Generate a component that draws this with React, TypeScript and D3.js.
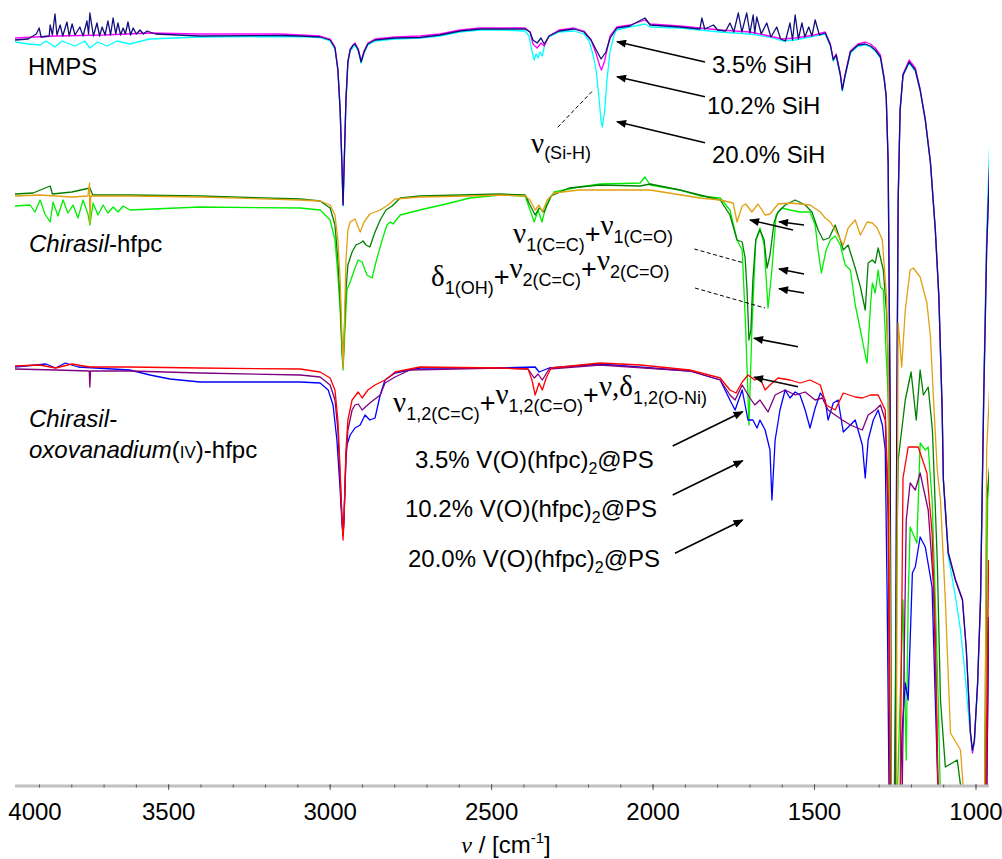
import React from 'react';
import * as d3 from 'd3';

type Pt = [number, number]; // [wavenumber cm-1, offset transmittance (a.u.)]

// ---- HMPS (top group) ----
const hmps35: Pt[] = [
  [3976, 74.6], [3935, 74.7], [3910, 75.2], [3901, 75.8], [3895, 74.9], [3870, 75.0], [3867, 76.1], [3860, 75.1],
  [3852, 77.2], [3846, 75.1], [3836, 76.1], [3828, 75.0], [3815, 76.4], [3808, 75.0], [3799, 76.2], [3790, 75.1],
  [3775, 75.9], [3765, 75.0], [3753, 76.5], [3748, 75.2], [3744, 77.3], [3733, 75.0], [3722, 76.3], [3714, 75.0],
  [3706, 75.9], [3697, 75.1], [3688, 76.5], [3680, 75.1], [3672, 76.8], [3664, 75.2], [3657, 76.3], [3649, 75.1],
  [3641, 75.8], [3634, 75.2], [3626, 76.4], [3618, 75.1], [3610, 75.8], [3600, 75.2], [3589, 75.6], [3578, 75.2],
  [3567, 75.5], [3540, 75.2], [3403, 75.0], [3155, 75.05], [3093, 75.0], [3031, 74.9], [3000, 74.6], [2985, 73.8],
  [2976, 71.6], [2969, 67.6], [2963, 61.6], [2960, 58.1], [2957, 61.6], [2951, 68.6], [2945, 72.4], [2938, 73.6],
  [2929, 74.1], [2923, 74.2], [2913, 73.6], [2904, 72.4], [2895, 73.4], [2883, 74.2], [2861, 74.6], [2799, 74.8],
  [2722, 74.85], [2660, 75.1], [2598, 75.5], [2536, 75.7], [2474, 75.7], [2396, 75.7], [2381, 75.4], [2372, 74.6],
  [2359, 74.3], [2347, 74.8], [2337, 74.2], [2322, 75.0], [2291, 75.5], [2245, 75.7], [2214, 75.4], [2192, 74.6],
  [2176, 73.6], [2161, 72.7], [2146, 73.4], [2133, 74.8], [2112, 75.8], [2072, 76.0], [2025, 76.8], [2009, 76.1],
  [1917, 75.9], [1855, 75.7], [1849, 76.8], [1840, 75.7], [1813, 76.1], [1800, 75.6], [1775, 75.5], [1762, 76.3],
  [1750, 75.4], [1736, 77.3], [1725, 75.4], [1710, 77.3], [1700, 75.3], [1690, 77.1], [1685, 75.3], [1679, 76.9],
  [1665, 75.2], [1648, 76.3], [1635, 74.9], [1617, 75.9], [1605, 74.7], [1590, 74.5], [1576, 76.3], [1568, 74.6],
  [1560, 77.1], [1550, 74.7], [1539, 76.3], [1530, 74.9], [1518, 75.9], [1508, 75.0], [1498, 76.6], [1485, 75.1],
  [1467, 75.3], [1451, 74.1], [1442, 72.6], [1433, 73.1], [1420, 71.1], [1414, 69.6], [1405, 71.1], [1389, 73.4],
  [1365, 74.1], [1343, 74.2], [1327, 74.0], [1312, 73.6], [1296, 72.9], [1284, 70.6], [1278, 68.9], [1272, 62.3],
  [1266, 38.0], [1263, -1.4], [1250, -1.4], [1245, 38.0], [1241, 58.6], [1235, 67.6], [1226, 71.1], [1207, 72.4],
  [1188, 71.6], [1173, 69.6], [1157, 66.6], [1141, 62.3], [1126, 55.6], [1115, 48.9], [1105, 37.9], [1101, 30.6],
  [1086, 23.3], [1064, 20.6], [1042, 18.6], [1030, 13.6], [1017, 5.3], [1011, 3.6], [1005, 4.6], [995, 10.3],
  [986, 18.6], [976, 38.9], [967, 53.6], [958, 61.9],
];

const hmps102: Pt[] = [
  [3976, 74.8], [3850, 75.0], [3700, 75.1], [3558, 75.3], [3403, 75.2], [3155, 75.2], [3093, 75.1], [3031, 75.0],
  [3000, 74.7], [2985, 73.9], [2976, 71.7], [2969, 67.7], [2963, 61.7], [2960, 58.2], [2957, 61.7], [2951, 68.7],
  [2945, 72.5], [2938, 73.7], [2923, 74.3], [2913, 73.7], [2904, 72.5], [2895, 73.5], [2883, 74.3], [2861, 74.7],
  [2799, 74.9], [2722, 75.0], [2660, 75.2], [2598, 75.6], [2536, 75.8], [2474, 75.8], [2396, 75.8], [2381, 75.4],
  [2372, 74.2], [2359, 73.8], [2347, 74.3], [2337, 74.0], [2322, 75.0], [2291, 75.6], [2245, 75.8], [2214, 75.5],
  [2192, 74.6], [2176, 73.2], [2165, 72.0], [2160, 71.6], [2150, 72.5], [2140, 74.0], [2133, 75.0], [2112, 75.9],
  [2072, 76.1], [2025, 76.6], [2009, 76.2], [1917, 76.0], [1855, 75.8], [1792, 75.6], [1700, 75.4], [1640, 75.0],
  [1600, 74.7], [1560, 74.8], [1500, 75.1], [1467, 75.4], [1451, 74.2], [1442, 72.7], [1433, 73.2], [1420, 71.2],
  [1414, 69.7], [1405, 71.2], [1389, 73.5], [1365, 74.2], [1343, 74.4], [1327, 74.2], [1312, 73.8], [1296, 73.1],
  [1284, 70.8], [1278, 69.0], [1272, 62.4], [1266, 38.1], [1263, -1.4], [1250, -1.4], [1245, 38.1], [1241, 58.7],
  [1235, 67.7], [1226, 71.2], [1207, 72.6], [1188, 71.8], [1173, 69.7], [1157, 66.7], [1141, 62.4], [1126, 55.7],
  [1115, 49.0], [1105, 38.0], [1101, 30.7], [1086, 23.4], [1064, 20.7], [1042, 18.7], [1030, 13.7], [1017, 5.2],
  [1011, 3.3], [1005, 4.5], [995, 10.4], [986, 18.7], [976, 39.0], [967, 53.7], [958, 62.0],
];

const hmps200: Pt[] = [
  [3976, 74.4], [3935, 74.2], [3898, 74.1], [3880, 74.5], [3852, 73.9], [3830, 74.5], [3790, 74.0], [3760, 74.5],
  [3744, 73.8], [3720, 74.4], [3690, 74.0], [3660, 74.5], [3620, 74.2], [3560, 74.7], [3403, 74.9], [3093, 74.95],
  [3031, 74.85], [3000, 74.5], [2985, 73.7], [2976, 71.5], [2969, 67.5], [2963, 61.5], [2960, 58.0], [2957, 61.5],
  [2951, 68.5], [2945, 72.3], [2938, 73.5], [2923, 74.1], [2913, 73.5], [2904, 72.3], [2895, 73.3], [2883, 74.1],
  [2861, 74.5], [2799, 74.7], [2722, 74.8], [2660, 75.0], [2598, 75.4], [2536, 75.6], [2474, 75.6], [2396, 75.5],
  [2384, 75.0], [2375, 73.5], [2368, 72.6], [2362, 73.2], [2356, 72.8], [2350, 73.4], [2343, 73.0], [2335, 74.2],
  [2322, 74.9], [2291, 75.4], [2245, 75.5], [2214, 75.2], [2198, 74.5], [2185, 73.0], [2176, 71.5], [2168, 69.0],
  [2161, 66.5], [2157, 65.9], [2150, 67.5], [2143, 70.5], [2133, 73.5], [2120, 75.2], [2112, 75.6], [2072, 75.9],
  [2025, 76.2], [2009, 75.9], [1917, 75.8], [1855, 75.6], [1792, 75.4], [1700, 75.2], [1640, 74.9], [1600, 74.5],
  [1560, 74.6], [1500, 75.0], [1467, 75.2], [1451, 74.0], [1442, 72.5], [1433, 73.0], [1420, 71.0], [1414, 69.5],
  [1405, 71.0], [1389, 73.3], [1365, 74.0], [1343, 74.1], [1327, 73.9], [1312, 73.5], [1296, 72.8], [1284, 70.5],
  [1278, 68.8], [1272, 62.2], [1266, 37.9], [1263, -1.4], [1250, -1.4], [1245, 37.9], [1241, 58.5], [1235, 67.5],
  [1226, 71.0], [1207, 72.3], [1188, 71.5], [1173, 69.5], [1157, 66.5], [1141, 62.2], [1126, 55.5], [1115, 48.8],
  [1105, 37.8], [1101, 30.5], [1086, 23.0], [1064, 19.0], [1048, 15.6], [1036, 11.9], [1020, 6.0], [1011, 3.3],
  [1005, 4.3], [995, 10.0], [986, 18.5], [976, 40.0], [967, 55.5], [958, 63.9],
];

// ---- Chirasil-hfpc (middle group) ----
const hfpcOrange: Pt[] = [
  [3976, 59.0], [3900, 59.1], [3800, 58.9], [3750, 59.0], [3745, 60.3], [3744, 56.3], [3741, 59.0], [3620, 59.0],
  [3403, 58.9], [3093, 58.6], [3031, 58.5], [3000, 58.1], [2985, 57.1], [2976, 54.6], [2969, 50.6], [2963, 44.6],
  [2960, 41.8], [2957, 44.6], [2951, 52.6], [2945, 55.6], [2938, 56.4], [2923, 56.7], [2907, 55.4], [2895, 56.4],
  [2877, 57.2], [2845, 57.6], [2821, 58.1], [2799, 58.7], [2722, 58.9], [2567, 59.0], [2474, 59.1], [2396, 59.0],
  [2381, 58.6], [2365, 57.6], [2353, 58.1], [2343, 57.4], [2328, 58.6], [2307, 59.3], [2229, 59.6], [2164, 59.6],
  [2009, 59.6], [1855, 58.8], [1792, 58.6], [1752, 58.3], [1740, 56.4], [1724, 58.0], [1713, 58.2], [1694, 57.4],
  [1675, 58.2], [1653, 57.1], [1638, 57.2], [1613, 58.2], [1576, 58.3], [1514, 58.1], [1482, 57.4], [1467, 56.8],
  [1451, 56.4], [1436, 55.6], [1411, 54.1], [1396, 55.8], [1374, 56.6], [1358, 55.1], [1337, 56.4], [1321, 56.3],
  [1306, 55.8], [1290, 54.6], [1277, 48.9], [1272, 42.3], [1266, 18.6], [1263, -1.4], [1247, -1.4], [1241, 46.3],
  [1230, 41.9], [1219, 47.6], [1204, 51.6], [1194, 51.8], [1173, 50.9], [1152, 48.3], [1141, 44.9], [1132, 38.9],
  [1120, 31.6], [1110, 28.6], [1095, 18.6], [1079, 5.3], [1048, 3.6], [1039, -0.4], [973, -1.4], [967, 33.6],
  [958, 39.6],
];

const hfpcDark: Pt[] = [
  [3976, 59.2], [3920, 59.3], [3867, 60.0], [3860, 59.2], [3800, 59.4], [3744, 59.8], [3735, 59.1], [3620, 59.1],
  [3403, 59.0], [3093, 58.7], [3031, 58.5], [3000, 57.8], [2985, 56.1], [2976, 52.6], [2969, 48.6], [2963, 43.6],
  [2960, 42.0], [2957, 44.6], [2951, 49.6], [2945, 52.1], [2932, 53.4], [2920, 54.1], [2907, 54.3], [2898, 54.5],
  [2889, 54.1], [2877, 53.9], [2861, 55.4], [2845, 56.6], [2827, 57.6], [2808, 58.0], [2783, 58.8], [2722, 59.0],
  [2474, 59.2], [2396, 59.1], [2381, 58.1], [2365, 57.1], [2353, 57.8], [2337, 57.4], [2316, 59.0], [2260, 59.8],
  [2164, 60.1], [2040, 60.0], [2009, 60.2], [1917, 59.6], [1855, 59.1], [1792, 58.6], [1762, 57.1], [1740, 54.6],
  [1724, 54.4], [1715, 52.8], [1709, 49.6], [1703, 44.6], [1697, 45.6], [1691, 50.6], [1682, 54.6], [1669, 55.6],
  [1656, 54.6], [1647, 51.8], [1638, 53.1], [1625, 56.4], [1613, 57.4], [1591, 58.1], [1560, 58.6], [1529, 58.1],
  [1508, 57.4], [1489, 55.6], [1473, 54.6], [1455, 54.8], [1436, 56.1], [1420, 54.6], [1411, 53.6], [1396, 54.1],
  [1374, 51.8], [1358, 49.9], [1343, 47.6], [1334, 52.3], [1321, 52.6], [1312, 52.3], [1303, 53.8], [1287, 51.6],
  [1277, 47.3], [1272, 42.3], [1266, 18.6], [1263, -1.4], [1253, -1.4], [1247, 18.6], [1241, 32.6], [1219, 38.6],
  [1201, 41.4], [1185, 36.6], [1173, 41.6], [1163, 39.1], [1148, 39.9], [1135, 35.6], [1120, 22.6], [1110, 8.6],
  [1095, 1.9], [1058, 2.6], [1042, -1.4], [973, -1.4], [967, 28.6], [958, 31.9],
];

const hfpcBright: Pt[] = [
  [3976, 58.0], [3929, 58.1], [3914, 57.4], [3898, 58.6], [3883, 57.2], [3867, 56.4], [3858, 58.4], [3843, 57.0],
  [3827, 58.6], [3812, 57.3], [3796, 58.1], [3781, 56.8], [3765, 58.6], [3750, 57.2], [3744, 56.1], [3734, 58.3],
  [3719, 57.1], [3703, 58.1], [3688, 57.3], [3672, 57.9], [3657, 57.4], [3641, 58.0], [3620, 57.6], [3403, 57.9],
  [3093, 57.8], [3031, 57.6], [3000, 56.6], [2985, 54.6], [2976, 51.1], [2969, 47.6], [2963, 43.1], [2960, 41.6],
  [2954, 45.6], [2948, 49.6], [2938, 50.4], [2923, 51.8], [2913, 52.6], [2901, 52.4], [2886, 51.1], [2870, 50.8],
  [2858, 52.4], [2839, 54.6], [2824, 56.1], [2814, 56.4], [2805, 56.2], [2783, 57.1], [2722, 57.6], [2629, 58.3],
  [2567, 58.8], [2474, 59.1], [2396, 59.0], [2381, 57.6], [2368, 56.4], [2356, 57.6], [2344, 56.4], [2331, 58.1],
  [2307, 59.4], [2229, 59.9], [2164, 60.2], [2040, 60.3], [2025, 60.9], [2009, 60.1], [1917, 59.6], [1855, 59.0],
  [1792, 58.8], [1762, 57.6], [1740, 54.6], [1724, 53.6], [1713, 45.6], [1703, 36.1], [1694, 45.6], [1682, 54.6],
  [1669, 55.8], [1656, 54.1], [1644, 47.8], [1632, 51.6], [1619, 57.1], [1601, 57.8], [1576, 57.6], [1545, 57.4],
  [1514, 57.4], [1498, 56.1], [1489, 53.6], [1479, 51.3], [1464, 53.6], [1451, 54.6], [1436, 55.0], [1420, 54.1],
  [1405, 52.1], [1389, 51.6], [1374, 48.1], [1358, 45.6], [1343, 43.1], [1337, 42.3], [1327, 47.9], [1321, 50.3],
  [1312, 49.3], [1303, 51.6], [1296, 49.9], [1287, 49.6], [1277, 42.3], [1272, 38.9], [1266, 18.6], [1263, -1.4],
  [1244, -1.4], [1235, 8.6], [1226, 18.6], [1216, 2.6], [1210, 18.6], [1204, 25.9], [1183, 24.3], [1173, 34.3],
  [1157, 33.6], [1148, 33.9], [1136, 28.6], [1126, 18.6], [1117, 8.6], [1110, -1.4], [973, -1.4], [964, 28.6],
  [958, 31.6],
];

// ---- Chirasil-oxovanadium(IV)-hfpc (bottom group) ----
const vRed: Pt[] = [
  [3976, 42.0], [3900, 42.1], [3850, 41.8], [3800, 42.2], [3744, 41.9], [3620, 41.9], [3403, 41.8], [3093, 41.7],
  [3031, 41.4], [3000, 40.8], [2985, 39.6], [2976, 36.6], [2969, 31.6], [2963, 26.6], [2960, 24.6], [2957, 26.6],
  [2951, 33.6], [2945, 36.6], [2932, 38.6], [2913, 39.4], [2901, 38.8], [2883, 39.6], [2861, 40.1], [2830, 40.6],
  [2814, 41.0], [2799, 41.4], [2722, 41.9], [2474, 41.8], [2387, 41.7], [2375, 40.6], [2365, 39.1], [2353, 40.3],
  [2343, 39.6], [2331, 40.8], [2316, 41.8], [2164, 42.3], [2040, 42.1], [1886, 41.6], [1792, 40.8], [1762, 39.6],
  [1743, 39.3], [1724, 40.4], [1706, 41.1], [1685, 40.6], [1669, 40.8], [1653, 39.6], [1638, 40.1], [1613, 40.8],
  [1576, 40.6], [1545, 40.3], [1514, 40.6], [1482, 40.1], [1464, 38.1], [1436, 37.6], [1411, 39.3], [1374, 38.9],
  [1352, 38.8], [1327, 39.1], [1303, 39.1], [1281, 37.6], [1272, 28.6], [1266, -1.4], [1235, -1.4], [1226, 30.8],
  [1210, 33.9], [1179, 33.9], [1152, 31.3], [1136, 25.3], [1126, 15.3], [1117, -1.4], [970, -1.4], [961, 22.6],
];

const vPurple: Pt[] = [
  [3976, 41.7], [3850, 41.6], [3746, 41.5], [3744, 39.9], [3742, 41.5], [3620, 41.5], [3403, 41.3], [3093, 41.1],
  [3031, 40.9], [3000, 40.1], [2985, 38.6], [2976, 35.6], [2969, 30.6], [2963, 26.6], [2960, 25.1], [2957, 27.1],
  [2951, 32.6], [2945, 35.6], [2932, 37.6], [2923, 38.1], [2913, 38.2], [2901, 37.6], [2877, 38.3], [2845, 39.1],
  [2830, 40.3], [2799, 40.9], [2753, 41.6], [2474, 41.8], [2387, 41.7], [2368, 40.8], [2356, 41.2], [2343, 40.6],
  [2322, 41.7], [2164, 42.1], [1886, 41.5], [1792, 40.6], [1762, 39.1], [1746, 38.6], [1724, 40.1], [1700, 38.8],
  [1685, 38.1], [1669, 38.6], [1644, 37.4], [1622, 39.1], [1591, 39.6], [1560, 39.1], [1529, 39.4], [1498, 38.6],
  [1476, 38.8], [1458, 37.6], [1436, 37.1], [1414, 36.6], [1389, 36.1], [1352, 35.6], [1334, 37.1], [1312, 37.6],
  [1296, 38.1], [1281, 36.6], [1272, 26.6], [1266, -1.4], [1229, -1.4], [1216, 26.6], [1204, 30.3], [1188, 29.6],
  [1173, 31.3], [1148, 27.6], [1132, 20.3], [1123, 8.6], [1117, -1.4], [967, -1.4], [961, 16.9],
];

const vBlue: Pt[] = [
  [3976, 41.9], [3880, 42.2], [3850, 41.8], [3820, 42.3], [3780, 41.9], [3620, 41.6], [3558, 41.1], [3496, 40.7],
  [3403, 40.4], [3093, 40.4], [3031, 40.3], [3006, 39.6], [2991, 38.1], [2979, 34.6], [2969, 29.6], [2963, 26.1],
  [2960, 25.1], [2957, 26.6], [2951, 33.1], [2948, 34.1], [2938, 35.1], [2923, 35.8], [2907, 36.1], [2892, 37.1],
  [2877, 36.6], [2861, 36.8], [2845, 39.1], [2830, 40.6], [2799, 41.3], [2722, 41.8], [2474, 41.8], [2365, 41.9],
  [2353, 41.4], [2322, 41.8], [2164, 42.2], [1886, 41.5], [1792, 40.6], [1762, 38.6], [1746, 37.6], [1724, 39.6],
  [1706, 36.6], [1691, 36.6], [1678, 35.8], [1669, 36.6], [1653, 35.6], [1638, 33.6], [1632, 28.6], [1622, 34.6],
  [1607, 37.6], [1591, 39.6], [1576, 38.8], [1560, 39.4], [1545, 39.1], [1529, 37.6], [1514, 35.8], [1498, 37.8],
  [1482, 39.3], [1467, 38.6], [1458, 36.6], [1442, 38.3], [1427, 38.6], [1411, 35.4], [1389, 36.1], [1374, 36.6],
  [1352, 34.1], [1343, 30.8], [1334, 34.6], [1318, 36.6], [1303, 37.6], [1290, 36.1], [1281, 33.6], [1275, 18.6],
  [1269, -1.4], [1235, -1.4], [1229, 5.3], [1219, 10.3], [1210, 8.6], [1197, 21.3], [1188, 21.9], [1173, 24.9],
  [1157, 23.9], [1136, 19.9], [1126, 8.6], [1117, -1.4], [967, -1.4], [961, 15.3],
];

const seriesList = [
  { name: '20.0% SiH', data: hmps200, color: '#00ffff' },
  { name: '10.2% SiH', data: hmps102, color: '#ff00ff' },
  { name: '3.5% SiH', data: hmps35, color: '#10107e' },
  { name: 'hfpc bright', data: hfpcBright, color: '#00ee00' },
  { name: 'hfpc dark', data: hfpcDark, color: '#008000' },
  { name: 'hfpc orange', data: hfpcOrange, color: '#e0a010' },
  { name: 'V blue', data: vBlue, color: '#0000ff' },
  { name: 'V purple', data: vPurple, color: '#800080' },
  { name: 'V red', data: vRed, color: '#ff0000' },
];

const tickLabels = [4000, 3500, 3000, 2500, 2000, 1500, 1000];

const W = 1002;
const H = 859;
const SANS = "'Liberation Sans', Arial, sans-serif";
const SERIF = "'Liberation Serif', 'Times New Roman', serif";

const App: React.FC = () => {
  const x = d3.scaleLinear().domain([4000, 1000]).range([7.2, 976]);
  const y = d3.scaleLinear().domain([0, 77]).range([786, 16]);
  const plotLeft = 15;
  const plotRight = 989;
  const axisY = y(0);

  const line = d3.line<Pt>().x(d => x(d[0])).y(d => y(d[1]));
  const minor = d3.range(3900, 950, -100);
  const major = tickLabels.filter(t => x(t) >= plotLeft);

  const arrows: [number, number, number, number][] = [
    [705, 62, 617, 41.7], [705, 96.7, 617, 76.7], [705, 142.7, 617, 121.7],
    [793, 230, 750, 220], [804, 225, 779, 221.7], [804, 274, 779, 269], [804, 293, 779, 288.7],
    [798, 346.7, 754, 338.3], [798, 386.7, 754, 377.3],
    [672.7, 446, 742.7, 411.7], [672.7, 495, 742.7, 460.7], [675, 553.3, 742.7, 520],
  ];
  const dashes: [number, number, number, number][] = [
    [557.7, 127.3, 592.7, 90.7], [694.3, 249, 743, 262.7], [695, 288, 765, 308],
  ];

  const sub = (t: string) => <tspan fontSize={18} dy={8}>{t}</tspan>;
  const nu = (first = false) => (
    <tspan fontFamily={SERIF} fontSize={29} dy={first ? 0 : -8}>ν</tspan>
  );
  const plus = <tspan fontSize={27} dy={-8}>+</tspan>;

  return (
    <svg width={W} height={H} style={{ position: 'absolute', left: 0, top: 0, background: '#fff' }}
      fontFamily={SANS}>
      <defs>
        <clipPath id="plot">
          <rect x={plotLeft} y={0} width={plotRight - plotLeft} height={axisY} />
        </clipPath>
        <marker id="ah" viewBox="0 0 10 8" refX={9} refY={4} markerWidth={11} markerHeight={8}
          markerUnits="userSpaceOnUse" orient="auto">
          <path d="M0,0L10,4L0,8z" fill="#000" />
        </marker>
      </defs>
      <rect width={W} height={H} fill="#fff" />

      <g clipPath="url(#plot)">
        {seriesList.map(s => (
          <path key={s.name} d={line(s.data) || ''} fill="none" stroke={s.color} strokeWidth={1.3}
            strokeLinejoin="round" />
        ))}
      </g>

      {/* axis */}
      <line x1={plotLeft} x2={plotRight} y1={axisY} y2={axisY} stroke="#c0c0c0" strokeWidth={3} />
      {minor.map(t => (
        <line key={'m' + t} x1={x(t)} x2={x(t)} y1={axisY - 1.5} y2={axisY + 1.5} stroke="#555" strokeWidth={1} />
      ))}
      {major.map(t => (
        <line key={'M' + t} x1={x(t)} x2={x(t)} y1={axisY - 1.5} y2={axisY + 4} stroke="#555" strokeWidth={1} />
      ))}
      {tickLabels.map(t => (
        <text key={'l' + t} x={Math.max(x(t), plotLeft + 20)} y={820} fontSize={24} textAnchor="middle" fill="#000">
          {t}
        </text>
      ))}
      <text x={506} y={853} fontSize={24} textAnchor="middle">
        <tspan fontFamily={SERIF} fontStyle="italic">ν</tspan>
        <tspan> / [cm</tspan>
        <tspan fontSize={15} dy={-10}>-1</tspan>
        <tspan dy={10}>]</tspan>
      </text>

      {/* arrows and guide lines */}
      {arrows.map((a, i) => (
        <line key={'a' + i} x1={a[0]} y1={a[1]} x2={a[2]} y2={a[3]} stroke="#000" strokeWidth={1.6}
          markerEnd="url(#ah)" />
      ))}
      {dashes.map((a, i) => (
        <line key={'d' + i} x1={a[0]} y1={a[1]} x2={a[2]} y2={a[3]} stroke="#000" strokeWidth={1}
          strokeDasharray="4,2.5" />
      ))}

      {/* group labels */}
      <text x={28} y={75} fontSize={24}>HMPS</text>
      <text x={29} y={252} fontSize={24}><tspan fontStyle="italic">Chirasil</tspan>-hfpc</text>
      <text x={29} y={427} fontSize={24} fontStyle="italic">Chirasil-</text>
      <text x={29} y={458} fontSize={24}>
        <tspan fontStyle="italic">oxovanadium</tspan>(<tspan fontSize={17}>IV</tspan>)-hfpc
      </text>

      {/* SiH labels */}
      <text x={712} y={73} fontSize={24}>3.5% SiH</text>
      <text x={707} y={114} fontSize={24}>10.2% SiH</text>
      <text x={712} y={163} fontSize={24}>20.0% SiH</text>
      <text x={531} y={153} fontSize={24}>
        {nu(true)}<tspan fontSize={18} dy={6}>(Si-H)</tspan>
      </text>

      {/* band assignments */}
      <text x={513} y={243} fontSize={24}>
        {nu(true)}{sub('1(C=C)')}{plus}{nu()}{sub('1(C=O)')}
      </text>
      <text x={431} y={286} fontSize={24}>
        <tspan fontFamily={SERIF} fontSize={29}>δ</tspan>{sub('1(OH)')}{plus}{nu()}{sub('2(C=C)')}{plus}{nu()}{sub('2(C=O)')}
      </text>
      <text x={393} y={412} fontSize={24}>
        {nu(true)}{sub('1,2(C=C)')}{plus}{nu()}{sub('1,2(C=O)')}{plus}{nu()}
        <tspan fontFamily={SERIF} fontSize={29}>,δ</tspan>{sub('1,2(O-Ni)')}
      </text>

      {/* vanadium loadings */}
      {[['3.5%', 415, 468], ['10.2%', 405, 517], ['20.0%', 408, 567]].map(([p, tx, ty]) => (
        <text key={p as string} x={tx as number} y={ty as number} fontSize={24}>
          {p} V(O)(hfpc)<tspan fontSize={16} dy={6}>2</tspan><tspan dy={-6}>@PS</tspan>
        </text>
      ))}
    </svg>
  );
};

export default App;
